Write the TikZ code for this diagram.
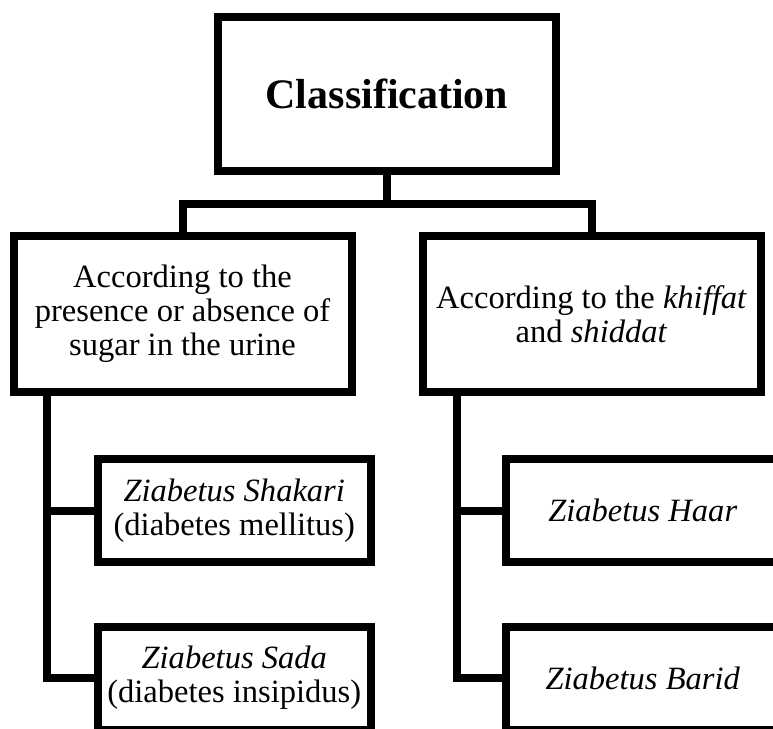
\documentclass[tikz,border=0pt]{standalone}
\usepackage{fontspec}
\setmainfont{Liberation Serif}

\tikzset{every picture/.style={line width=6pt}}
\tikzset{
  box/.style={draw, rectangle, inner sep=0pt, outer sep=0pt, align=center,
    font=\fontsize{24.4pt}{25.5pt}\selectfont},
  rootbox/.style={box, minimum width=253.5pt, minimum height=115.5pt,
    font=\fontsize{31.5pt}{34pt}\selectfont\bfseries},
  catbox/.style={box, minimum width=253.5pt, minimum height=117pt},
  leafbox/.style={box, minimum width=205pt, minimum height=77.25pt}
}

\begin{document}
\begin{tikzpicture}[x=0.75pt,y=0.75pt,yscale=-1,xscale=1]
    \useasboundingbox (0,0) rectangle (773,728);
    \clip (0,0) rectangle (773,728);

    %Shape: Rectangle [root]
    \node [rootbox] (root) at (387,93.5) {Classification};
    %Shape: Rectangle [left category]
    \node [catbox] (presence) at (182.5,313.5) {According to the\\presence or absence of\\sugar in the urine};
    %Shape: Rectangle [right category]
    \node [catbox] (severity) at (591.5,313.75) {According to the \textit{khiffat}\\and \textit{shiddat}};
    %Shape: Rectangle [leaves]
    \node [leafbox] (shakari) at (234.25,510.5) {\textit{Ziabetus Shakari}\\(diabetes mellitus)};
    \node [leafbox] (sada) at (234.25,678) {\textit{Ziabetus Sada}\\(diabetes insipidus)};
    \node [leafbox] (haar) at (642.75,510.5) {\textit{Ziabetus Haar}};
    \node [leafbox] (barid) at (642.75,678) {\textit{Ziabetus Barid}};

    %Straight Lines [root to categories]
    \coordinate (split) at (387,203.5);
    \draw    (root.south) -- (split) ;
    \draw    (presence.north) |- (split) -| (severity.north) ;
    %Straight Lines [left spine]
    \draw    (presence.south west) ++(33.5,0) |- (shakari.west) ;
    \draw    (presence.south west) ++(33.5,0) |- (sada.west) ;
    %Straight Lines [right spine]
    \draw    (severity.south west) ++(34,0) |- (haar.west) ;
    \draw    (severity.south west) ++(34,0) |- (barid.west) ;

\end{tikzpicture}
\end{document}
